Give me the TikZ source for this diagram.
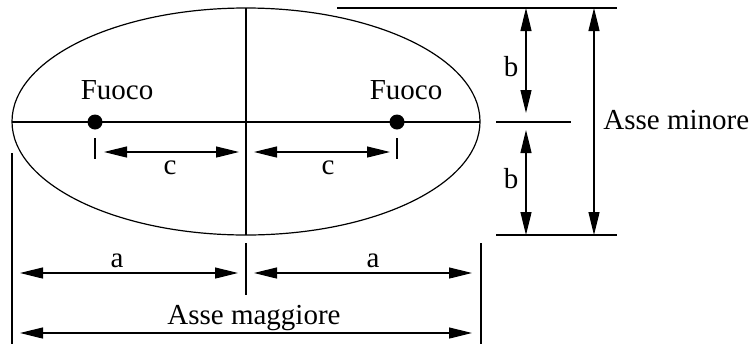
\documentclass[tikz,border=0pt]{standalone}
\usepackage{fontspec}
\setmainfont{Liberation Serif}
\usetikzlibrary{arrows.meta,positioning}

\begin{document}
\begin{tikzpicture}[
    x=0.5pt, y=-0.5pt,
    every node/.style={font=\fontsize{14.5}{17}\selectfont, inner sep=0pt},
    thinline/.style={line width=0.6pt},
    dimarrow/.style={line width=0.6pt, {Triangle[length=11.5pt,width=5.5pt]}-{Triangle[length=11.5pt,width=5.5pt]}},
    focusdot/.style={circle, fill=black, minimum size=7.5pt, inner sep=0pt}
]
\useasboundingbox (0,0) rectangle (755,344);

% ellipse and its axes
\coordinate (centre) at (246,121.5);
\draw[thinline] (centre) ellipse [x radius=234, y radius=113.5];
\coordinate (top) at (246,8);
\coordinate (bottom) at (246,235);
\coordinate (left) at (12,122);
\coordinate (right) at (480,122);
\draw[thinline] (top) -- (bottom);
\draw[thinline] (left) -- (right);

% foci
\node[focusdot] (focus_l) at (95,122) {};
\node[focusdot] (focus_r) at (397,122) {};
\node[anchor=base] (lbl_focus_l) at (117,99) {Fuoco};
\node[anchor=base] (lbl_focus_r) at (406,99) {Fuoco};

% distance c
\coordinate (tick_l_top) at (95,138);
\coordinate (tick_l_bot) at (95,159);
\coordinate (tick_r_top) at (397,138);
\coordinate (tick_r_bot) at (397,159);
\draw[thinline] (tick_l_top) -- (tick_l_bot);
\draw[thinline] (tick_r_top) -- (tick_r_bot);
\coordinate (c_l_start) at (104,152);
\coordinate (c_l_end) at (239,152);
\coordinate (c_r_start) at (254,152);
\coordinate (c_r_end) at (390,152);
\draw[dimarrow] (c_l_start) -- (c_l_end);
\draw[dimarrow] (c_r_start) -- (c_r_end);
\node[anchor=base] (lbl_c_l) at (170,174) {c};
\node[anchor=base] (lbl_c_r) at (328,174) {c};

% semi-axes a and major axis
\coordinate (mid_top) at (246,243);
\coordinate (mid_bot) at (246,295);
\coordinate (ext_l_top) at (12,153);
\coordinate (ext_l_bot) at (12,344);
\coordinate (ext_r_top) at (481,243);
\coordinate (ext_r_bot) at (481,344);
\draw[thinline] (mid_top) -- (mid_bot);
\draw[thinline] (ext_l_top) -- (ext_l_bot);
\draw[thinline] (ext_r_top) -- (ext_r_bot);
\coordinate (a_l_start) at (20,273);
\coordinate (a_l_end) at (238,273);
\coordinate (a_r_start) at (254,273);
\coordinate (a_r_end) at (472,273);
\draw[dimarrow] (a_l_start) -- (a_l_end);
\draw[dimarrow] (a_r_start) -- (a_r_end);
\node[anchor=base] (lbl_a_l) at (117,267) {a};
\node[anchor=base] (lbl_a_r) at (373,267) {a};
\coordinate (major_start) at (20,333);
\coordinate (major_end) at (472,333);
\draw[dimarrow] (major_start) -- (major_end);
\node[anchor=base] (lbl_major) at (254,324) {Asse maggiore};

% semi-axes b and minor axis
\coordinate (ext_top_l) at (337,8);
\coordinate (ext_top_r) at (617,8);
\coordinate (ext_bot_l) at (496,235);
\coordinate (ext_bot_r) at (617,235);
\coordinate (ext_mid_l) at (496,122);
\coordinate (ext_mid_r) at (571,122);
\draw[thinline] (ext_top_l) -- (ext_top_r);
\draw[thinline] (ext_bot_l) -- (ext_bot_r);
\draw[thinline] (ext_mid_l) -- (ext_mid_r);
\coordinate (b_u_start) at (526,8);
\coordinate (b_u_end) at (526,113);
\coordinate (b_d_start) at (526,130);
\coordinate (b_d_end) at (526,235);
\draw[dimarrow] (b_u_start) -- (b_u_end);
\draw[dimarrow] (b_d_start) -- (b_d_end);
\node[anchor=base] (lbl_b_u) at (511,76) {b};
\node[anchor=base] (lbl_b_d) at (511,188) {b};
\coordinate (minor_start) at (594,8);
\coordinate (minor_end) at (594,235);
\draw[dimarrow] (minor_start) -- (minor_end);
\node[anchor=base west] (lbl_minor) at (603,129) {Asse minore};

\end{tikzpicture}
\end{document}
